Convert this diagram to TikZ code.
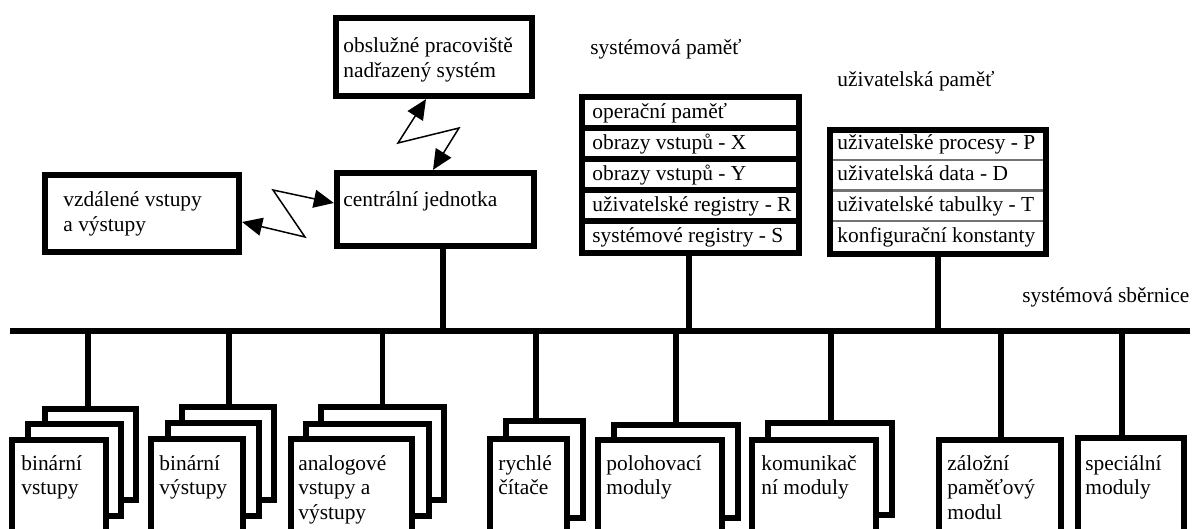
\documentclass[tikz,border=0pt]{standalone}
\usepackage{fontspec}
\setmainfont{Liberation Serif}
\usetikzlibrary{fit,arrows.meta}
\begin{document}
\begin{tikzpicture}[x=0.5pt,y=-0.5pt,
  box/.style={draw, line width=2.9pt, fill=white, inner sep=0pt},
  blk/.style={fill=black, inner sep=0pt, outer sep=0pt},
  row/.style={fill=white, inner sep=0pt, outer sep=0pt},
  txt/.style={inner sep=0pt, anchor=base west, font=\fontsize{10.7pt}{12.5pt}\selectfont},
  wire/.style={line width=2.6pt},
  sepline/.style={line width=1.2pt, draw=black!55},
  zig/.style={line width=0.75pt, {Triangle[length=10pt,width=9pt]}-{Triangle[length=10pt,width=9pt]}}
]
\useasboundingbox (0,0) rectangle (1194,529);
\clip (0,0) rectangle (1194,529);

% top boxes
\node[box, fit={(335.75,17.75) (532.25,96.25)}] (obsl) {};
\node[txt] (obslA) at (343,53) {obslužné pracoviště};
\node[txt] (obslB) at (343,78) {nadřazený systém};

\node[box, fit={(336.75,172.75) (534.25,246.25)}] (central) {};
\node[txt] (centralT) at (343,207) {centrální jednotka};

\node[box, fit={(44.75,174.75) (239.25,252.25)}] (vzdal) {};
\node[txt] (vzdalA) at (63,207) {vzdálené vstupy};
\node[txt] (vzdalB) at (63,232) {a výstupy};

% zigzag links
\coordinate (zA) at (398,143);
\coordinate (zB) at (459,128);
\draw[zig] ([xshift=-4pt]obsl.south) -- (zA) -- (zB) -- ([xshift=-1.25pt]central.north);
\coordinate (zC) at (305,237);
\coordinate (zD) at (273,190);
\draw[zig] ([yshift=-4.25pt]vzdal.east) -- (zC) -- (zD) -- ([yshift=3.25pt]central.west);

% system memory
\node[txt] (memL) at (590,55) {systémová paměť};
\node[blk, fit={(579,94) (802,256)}] (mem) {};
\node[row, fit={(585,100) (796,125)}] (m1) {};
\node[row, fit={(585,131) (796,156)}] (m2) {};
\node[row, fit={(585,162) (796,187)}] (m3) {};
\node[row, fit={(585,193) (796,218)}] (m4) {};
\node[row, fit={(585,224) (796,250)}] (m5) {};
\node[txt] (m1t) at (592,119) {operační paměť};
\node[txt] (m2t) at (592,150) {obrazy vstupů - X};
\node[txt] (m3t) at (592,181) {obrazy vstupů - Y};
\node[txt] (m4t) at (592,212) {uživatelské registry - R};
\node[txt] (m5t) at (592,243) {systémové registry - S};

% user memory
\node[txt] (userL) at (837,87) {uživatelská paměť};
\node[box, line width=3pt, fit={(830,130) (1046,254)}] (user) {};
\draw[sepline] (833,160) -- (1043,160);
\draw[sepline] (833,190.5) -- (1043,190.5);
\draw[sepline] (833,221) -- (1043,221);
\node[txt] (u1t) at (837,150) {uživatelské procesy - P};
\node[txt] (u2t) at (837,181) {uživatelská data - D};
\node[txt] (u3t) at (837,212) {uživatelské tabulky - T};
\node[txt] (u4t) at (837,243) {konfigurační konstanty};

% bus
\node[blk, fit={(10,328) (1190,334)}] (bus) {};
\node[txt] (busL) at (1022,303) {systémová sběrnice};

\coordinate (cB) at ([xshift=3.75pt]central.south);
\draw[wire] (cB) -- (cB |- bus);
\coordinate (mB) at ([xshift=-0.75pt]mem.south);
\draw[wire] (mB) -- (mB |- bus);
\draw[wire] (user.south) -- (user.south |- bus);

% bottom modules
\node[box, fit={(44.75,408.75) (136.25,500.25)}] (bvB) {};
\node[box, fit={(27.75,423.75) (121.25,516.25)}] (bvM) {};
\node[box, fit={(11.75,439.75) (106.25,560)}] (bvF) {};
\node[txt] at (21,470) {binární};
\node[txt] at (21,494) {vstupy};

\node[box, fit={(181.75,406.75) (274.25,500.25)}] (byB) {};
\node[box, fit={(167.75,422.75) (259.25,516.25)}] (byM) {};
\node[box, fit={(150.75,438.75) (243.25,560)}] (byF) {};
\node[txt] at (159,470) {binární};
\node[txt] at (159,494) {výstupy};

\node[box, fit={(320.75,406.75) (444.25,500.25)}] (anB) {};
\node[box, fit={(305.75,423.75) (429.25,516.25)}] (anM) {};
\node[box, fit={(290.75,438.75) (412.25,560)}] (anF) {};
\node[txt] at (298,470) {analogové};
\node[txt] at (298,494) {vstupy a};
\node[txt] at (298,519) {výstupy};

\node[box, fit={(505.75,420.75) (583.25,518.25)}] (ryB) {};
\node[box, fit={(489.75,438.75) (567.25,560)}] (ryF) {};
\node[txt] at (498,470) {rychlé};
\node[txt] at (498,494) {čítače};

\node[box, fit={(613.75,424.75) (738.25,518.25)}] (poB) {};
\node[box, fit={(597.75,439.75) (722.25,560)}] (poF) {};
\node[txt] at (606,470) {polohovací};
\node[txt] at (606,494) {moduly};

\node[box, fit={(767.75,422.75) (892.25,515.25)}] (koB) {};
\node[box, fit={(751.75,439.75) (876.25,560)}] (koF) {};
\node[txt] at (761,470) {komunikač};
\node[txt] at (761,494) {ní moduly};

\node[box, fit={(938.75,439.75) (1061.25,560)}] (za) {};
\node[txt] at (947,470) {záložní};
\node[txt] at (947,494) {paměťový};
\node[txt] at (947,519) {modul};

\node[box, fit={(1077.75,437.75) (1184.25,560)}] (sp) {};
\node[txt] at (1085,470) {speciální};
\node[txt] at (1085,494) {moduly};

% drops from bus
\coordinate (d1) at ([xshift=-1.25pt]bvB.north);
\coordinate (d2) at ([xshift=0.5pt]byB.north);
\coordinate (d3) at (anB.north);
\coordinate (d4) at ([xshift=-4.25pt]ryB.north);
\coordinate (d5) at (poB.north);
\coordinate (d6) at ([xshift=0.5pt]koB.north);
\coordinate (d7) at ([xshift=0.5pt]za.north);
\coordinate (d8) at ([xshift=-4.5pt]sp.north);
\foreach \d in {d1,d2,d3,d4,d5,d6,d7,d8}
  \draw[wire] (\d |- bus) -- (\d);
\end{tikzpicture}
\end{document}
